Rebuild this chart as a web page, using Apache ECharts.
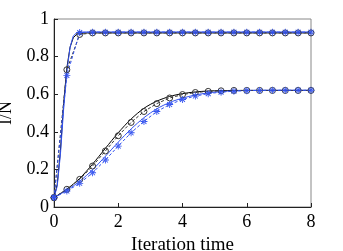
<!DOCTYPE html>
<html><head><meta charset="utf-8">
<script src="https://cdn.jsdelivr.net/npm/echarts@6/dist/echarts.min.js"></script>
<style>html,body{margin:0;padding:0;background:#fff}#c{width:343px;height:251px}</style>
</head><body><div id="c"></div>
<script>
// marker times (step 0.4)
var tMarks = [0,0.4,0.8,1.2,1.6,2.0,2.4,2.8,3.2,3.6,4.0,4.4,4.8,5.2,5.6,6.0,6.4,6.8,7.2,7.6,8.0];
// fine times for the fast (upper) curves
var tUpper = [0,0.1,0.2,0.3,0.4,0.5,0.6,0.7,0.8,1,2,3,4,5,6,7,8];
var upperBlackLine = [0.05,0.12,0.30,0.55,0.74,0.85,0.90,0.918,0.924,0.926,0.926,0.926,0.926,0.926,0.926,0.926,0.926];
var upperBlueLine  = [0.05,0.11,0.28,0.52,0.72,0.85,0.91,0.926,0.93,0.931,0.931,0.931,0.931,0.931,0.931,0.931,0.931];
var upperCircles = [0.05,0.73,0.918,0.926,0.926,0.926,0.926,0.926,0.926,0.926,0.926,0.926,0.926,0.926,0.926,0.926,0.926,0.926,0.926,0.926,0.926];
var upperStars   = [0.05,0.70,0.928,0.93,0.93,0.93,0.93,0.93,0.93,0.93,0.93,0.93,0.93,0.93,0.93,0.93,0.93,0.93,0.93,0.93,0.93];
// slow (lower) curves
var lowerBlackLine = [0.05,0.095,0.152,0.228,0.312,0.395,0.468,0.525,0.563,0.588,0.603,0.612,0.617,0.619,0.62,0.62,0.62,0.62,0.62,0.62,0.62];
var lowerCircles   = [0.05,0.094,0.147,0.218,0.298,0.379,0.45,0.508,0.55,0.58,0.598,0.609,0.615,0.618,0.62,0.62,0.62,0.62,0.62,0.62,0.62];
var lowerBlueLine  = [0.05,0.09,0.137,0.198,0.27,0.345,0.415,0.475,0.522,0.556,0.579,0.596,0.607,0.614,0.618,0.62,0.621,0.621,0.621,0.621,0.621];
var lowerStars     = [0.05,0.085,0.126,0.182,0.25,0.324,0.395,0.455,0.508,0.545,0.572,0.59,0.603,0.611,0.616,0.619,0.62,0.621,0.621,0.621,0.621];
var xTicks = [0,2,4,6,8];
var yTicks = [0,0.2,0.4,0.6,0.8,1];

function pairs(t, v){ return t.map(function(x,i){return [x, v[i]];}); }
var BLUE = '#3352ef';
var STAR = 'path://M-1.2,-10L1.2,-10L1.2,10L-1.2,10Z M-10,-1.2L10,-1.2L10,1.2L-10,1.2Z M-7.9,-6.1L6.1,7.9L7.9,6.1L-6.1,-7.9Z M7.9,-6.1L-6.1,7.9L-7.9,6.1L6.1,-7.9Z';
var FONT = 'Liberation Serif';

function lineS(data, color, type, smooth){
  return {type:'line', data:data, showSymbol:false, symbol:'none', smooth:smooth||false,
    lineStyle:{color:color, width:1, type:type}, clip:false, z:2, animation:false};
}
function markS(data, color, symbol, size, hollow){
  return {type:'line', data:data, symbol:symbol, symbolSize:size, showSymbol:true, clip:false,
    lineStyle:{color:color, width:1, type:[3,2]},
    itemStyle: hollow ? {color:'rgba(0,0,0,0)', borderColor:color, borderWidth:1} : {color:color, borderWidth:0},
    z:3, animation:false};
}

var chart = echarts.init(document.getElementById('c'), null, {renderer:'canvas'});
chart.setOption({
  animation:false,
  grid:{left:54, right:32, top:19, bottom:44, outerBoundsMode:'none', containLabel:false,
    show:true, borderColor:'#888', borderWidth:1},
  xAxis:{type:'value', min:0, max:8, interval:2,
    name:'Iteration time', nameLocation:'middle', nameGap:22,
    nameTextStyle:{fontFamily:FONT, fontSize:19, color:'#000'},
    axisLine:{show:true, onZero:false, lineStyle:{color:'#222', width:1}},
    axisTick:{show:true, inside:true, length:4, lineStyle:{color:'#222'}},
    axisLabel:{fontFamily:FONT, fontSize:18, color:'#000', margin:6,
      formatter:function(v){return xTicks.indexOf(v)>=0 ? String(v) : '';}},
    splitLine:{show:false}},
  yAxis:{type:'value', min:0, max:1, interval:0.2,
    name:'I/N', nameLocation:'middle', nameGap:37, nameRotate:90,
    nameTextStyle:{fontFamily:FONT, fontSize:18, color:'#000'},
    axisLine:{show:true, onZero:false, lineStyle:{color:'#222', width:1}},
    axisTick:{show:true, inside:true, length:4, lineStyle:{color:'#222'}},
    axisLabel:{fontFamily:FONT, fontSize:18, color:'#000', margin:5,
      formatter:function(v){ for (var i=0;i<yTicks.length;i++){ if (Math.abs(yTicks[i]-v)<1e-9) return String(yTicks[i]); } return ''; }},
    splitLine:{show:false}},
  series:[
    lineS(pairs(tUpper, upperBlackLine), '#000', 'solid'),
    markS(pairs(tMarks, upperCircles), '#333', 'circle', 6, true),
    lineS(pairs(tMarks, lowerBlackLine), '#000', 'solid', 0.3),
    markS(pairs(tMarks, lowerCircles), '#333', 'circle', 6, true),
    lineS(pairs(tUpper, upperBlueLine), BLUE, 'solid'),
    markS(pairs(tMarks, upperStars), BLUE, STAR, 7, false),
    lineS(pairs(tMarks, lowerBlueLine), BLUE, 'solid', 0.3),
    markS(pairs(tMarks, lowerStars), BLUE, STAR, 7, false)
  ]
});
</script></body></html>
